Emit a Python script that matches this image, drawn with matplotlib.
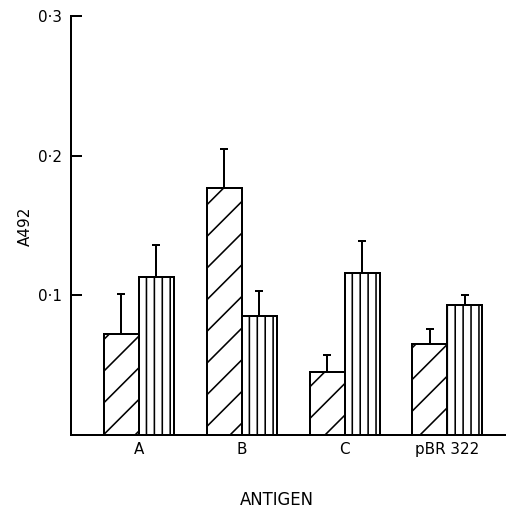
import matplotlib
matplotlib.use("Agg")
import matplotlib.pyplot as plt
import numpy as np

antigens = ["A", "B", "C", "pBR 322"]
hatched_vals = [0.072, 0.177, 0.045, 0.065]
hatched_err = [0.029, 0.028, 0.012, 0.011]
vertical_vals = [0.113, 0.085, 0.116, 0.093]
vertical_err = [0.023, 0.018, 0.023, 0.007]
yticks = [0.1, 0.2, 0.3]
ytick_labels = ["0\u00b71", "0\u00b72", "0\u00b73"]

# hatch spacing scales with dpi, so pick dpi for the hatch density
# and give every other size in pixels
DPI = 190
PX = 72 / DPI

plt.rcParams["hatch.linewidth"] = 1.6 * PX
plt.rcParams["font.family"] = ["DejaVu Sans"]

fig = plt.figure(figsize=(508 / DPI, 511 / DPI), dpi=DPI)
ax = fig.add_axes([71 / 508, 1 - 435 / 511, (505 - 71) / 508, (435 - 16) / 511])

x = np.arange(len(antigens))
w = 0.34
lw = 2.0 * PX
fs = 15.2 * PX

ax.bar(x - w / 2, hatched_vals, w, color="white", edgecolor="black",
       hatch="//", linewidth=lw, zorder=2)
ax.bar(x + w / 2, vertical_vals, w, color="white", edgecolor="black",
       hatch="||||", linewidth=lw, zorder=2)

ax.errorbar(x - w / 2, hatched_vals, yerr=[np.zeros(4), hatched_err],
            fmt="none", ecolor="black", elinewidth=lw, capsize=3.6 * PX,
            capthick=lw, zorder=1)
ax.errorbar(x + w / 2, vertical_vals, yerr=[np.zeros(4), vertical_err],
            fmt="none", ecolor="black", elinewidth=lw, capsize=3.6 * PX,
            capthick=lw, zorder=1)

ax.set_xlim(-0.66, 3.56)
ax.set_ylim(0, 0.3)
ax.set_yticks(yticks)
ax.set_yticklabels(ytick_labels, fontsize=fs)
ax.set_xticks(x)
ax.set_xticklabels(antigens, fontsize=fs)
ax.tick_params(axis="y", direction="in", length=11 * PX, width=lw, pad=9 * PX)
ax.tick_params(axis="x", length=0, pad=7 * PX)

for s in ["top", "right"]:
    ax.spines[s].set_visible(False)
for s in ["left", "bottom"]:
    ax.spines[s].set_linewidth(lw)

fig.text(25 / 508, 1 - 226 / 511, "A492", rotation=90, fontsize=fs,
         ha="center", va="center")
fig.text(277 / 508, 1 - 500 / 511, "ANTIGEN", fontsize=16.5 * PX,
         ha="center", va="center")

fig.savefig("out.png", dpi=DPI)
